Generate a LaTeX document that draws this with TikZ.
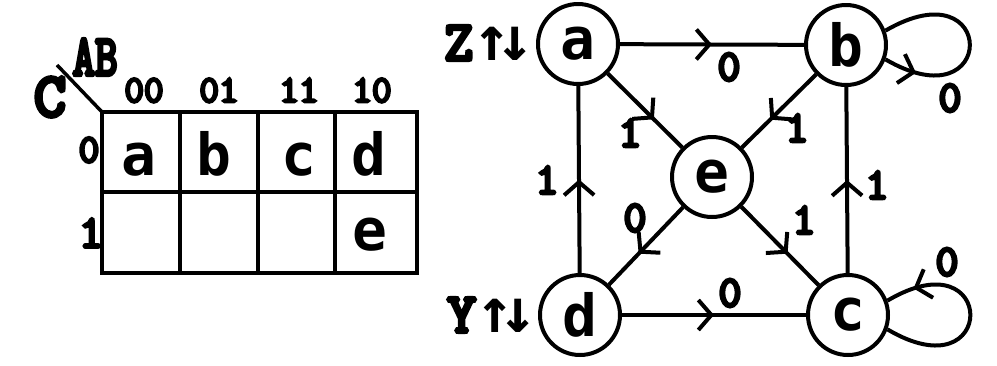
\documentclass[tikz,border=0pt]{standalone}
\usepackage{fontspec}
\usepackage{graphicx}
\setmainfont{Liberation Mono}
\newfontfamily\lett{DejaVu Sans Mono}
\newfontfamily\tyb{Latin Modern Mono}[FakeBold=7]
\usetikzlibrary{arrows.meta,decorations.markings}
\tikzset{
  st/.style={circle,draw,line width=4pt,minimum size=80pt,inner sep=0pt,
    font=\lett\bfseries\fontsize{58}{58}\selectfont},
  fsmedge/.style={line width=4pt,postaction={decorate},
    decoration={markings,mark=at position #1 with
      {\arrow{Straight Barb[length=13pt,width=30pt]}}}},
  fsmedge/.default=0.5,
  lbl/.style={font=\tyb\fontsize{44}{44}\selectfont,inner sep=0pt},
  side/.style={font=\tyb\fontsize{56}{56}\selectfont,inner sep=0pt},
  kmap/.style={line width=4pt},
  kl/.style={font=\lett\bfseries\fontsize{58}{58}\selectfont,inner sep=0pt},
  hd/.style={font=\tyb\fontsize{38}{38}\selectfont,inner sep=0pt},
}
\begin{document}
\begin{tikzpicture}[x=1pt,y=-1pt]
\fill[white] (0,0) rectangle (997,365);
\useasboundingbox (0,0) rectangle (997,365);
% ---------- Karnaugh map ----------
\coordinate (k) at (102,112);
\coordinate (kd) at (57,65);
\draw[kmap] (k) rectangle (417,273);
\draw[kmap] (102,192) -- (417,192);
\draw[kmap] (180,112) -- (180,273);
\draw[kmap] (258,112) -- (258,273);
\draw[kmap] (335,112) -- (335,273);
\draw[line width=3.5pt] (k) -- (kd);
\node[hd,font=\tyb\fontsize{58}{58}\selectfont] (kab) at (95,57) {\scalebox{0.75}[1]{AB}};
\node[hd,font=\tyb\fontsize{62}{62}\selectfont] (kc) at (50,97) {C};
\node[hd,anchor=base] (h00) at (144,102) {00};
\node[hd,anchor=base] (h01) at (219,102) {01};
\node[hd,anchor=base] (h11) at (299,102) {11};
\node[hd,anchor=base] (h10) at (372,102) {10};
\node[hd,font=\tyb\fontsize{40}{40}\selectfont] (r0) at (89,150) {0};
\node[hd,font=\tyb\fontsize{46}{46}\selectfont] (r1) at (91,233) {1};
\node[kl,anchor=base] (ka) at (139,175) {a};
\node[kl,anchor=base] (kb) at (214,175) {b};
\node[kl,anchor=base] (kcc) at (299,175) {c};
\node[kl,anchor=base] (kdd) at (369,175) {d};
\node[kl,anchor=base] (ke) at (370,250) {e};
% ---------- state graph ----------
\node[st] (a) at (578,44) {a};
\node[st] (b) at (846,45) {b};
\node[st] (e) at (712,177) {e};
\node[st] (d) at (580,315) {d};
\node[st] (c) at (848,315) {c};
\node[side] (z) at (489,43) {Z{\lett\bfseries\fontsize{62}{62}\selectfont ↑\kern-14pt↓}};
\node[side] (y) at (492,315) {Y{\lett\bfseries\fontsize{62}{62}\selectfont ↑\kern-14pt↓}};
\draw[fsmedge] (a) -- (b);
\draw[fsmedge=0.62] (a) -- (e);
\draw[fsmedge=0.62] (b) -- (e);
\draw[fsmedge=0.6] (e) -- (d);
\draw[fsmedge=0.6] (e) -- (c);
\draw[fsmedge] (d) -- (a);
\draw[fsmedge] (c) -- (b);
\draw[fsmedge] (d) -- (c);
\draw[fsmedge=0.16] (b.-20) .. controls (998,125) and (998,-35) .. (b.20);
\draw[fsmedge=0.86] (c.-20) .. controls (998,395) and (998,235) .. (c.20);
\node[lbl] (lab) at (729,67) {0};
\node[lbl] (lae) at (630,133) {1};
\node[lbl] (lbe) at (797,128) {1};
\node[lbl] (lbb) at (950,98) {0};
\node[lbl] (lda) at (547,180) {1};
\node[lbl] (lcb) at (877,185) {1};
\node[lbl] (led) at (635,218) {0};
\node[lbl] (lec) at (804,220) {1};
\node[lbl] (ldc) at (730,293) {0};
\node[lbl] (lcc) at (947,262) {0};
\end{tikzpicture}
\end{document}
